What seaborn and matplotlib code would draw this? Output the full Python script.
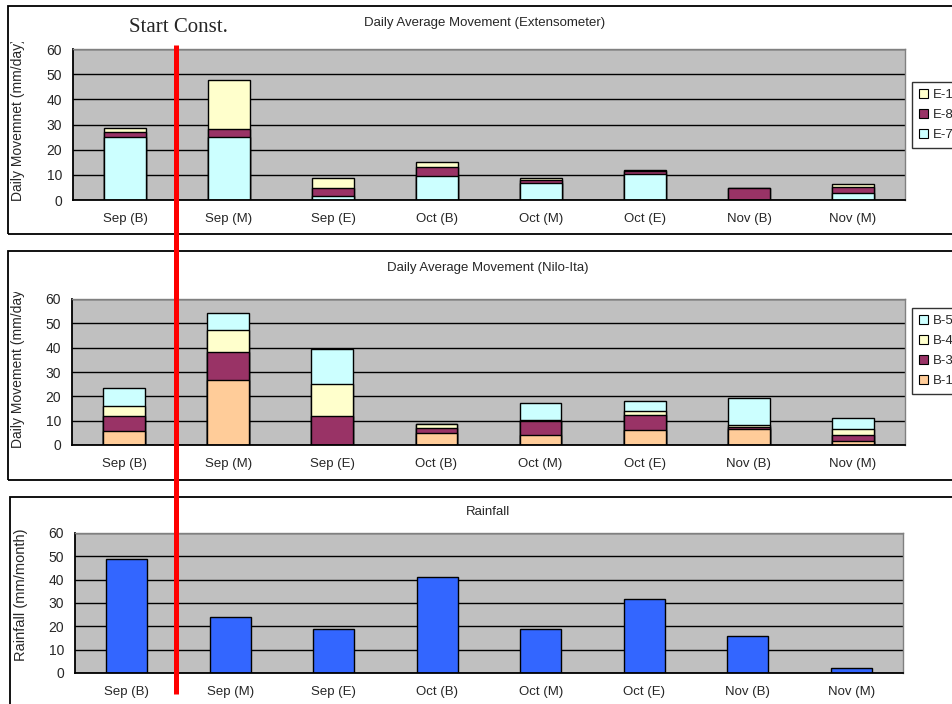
import numpy as np
import pandas as pd
import matplotlib
matplotlib.use("Agg")
import matplotlib.pyplot as plt
import seaborn as sns
from matplotlib.patches import Rectangle, Patch
from matplotlib.lines import Line2D
from matplotlib.transforms import Bbox, TransformedBbox

periods = ["Sep (B)", "Sep (M)", "Sep (E)", "Oct (B)", "Oct (M)", "Oct (E)", "Nov (B)", "Nov (M)"]

# Extensometer, daily movement (mm/day)
e7 = [25.1, 25.2, 1.7, 9.6, 6.6, 10.3, 0.0, 2.9]
e8 = [2.0, 3.0, 3.1, 3.6, 1.2, 1.3, 4.6, 2.4]
e10 = [1.7, 19.4, 3.9, 2.0, 1.1, 0.2, 0.1, 1.0]

# Nilo-Ita, daily movement (mm/day)
b1 = [5.8, 26.8, 0.0, 5.0, 4.3, 6.2, 6.6, 1.6]
b3 = [6.2, 11.5, 12.0, 1.8, 5.7, 6.3, 0.7, 2.5]
b4 = [4.1, 8.8, 12.9, 1.8, 0.4, 1.6, 1.1, 2.3]
b5 = [7.3, 7.2, 14.7, 0.1, 6.8, 4.0, 10.8, 4.7]

# Rainfall (mm/month)
rain = [48.7, 24.0, 18.7, 41.1, 18.7, 31.6, 16.0, 2.1]

cyan = "#CCFFFF"
maroon = "#993366"
yellow = "#FFFFCC"
peach = "#FFCC99"
blue = "#3366FF"

sns.set_style("white")
plt.rcParams['font.family'] = ['Liberation Sans', 'DejaVu Sans']

W, H = 952, 704
fig = plt.figure(figsize=(W / 100, H / 100), dpi=100)


def px_axes(x0, y0, x1, y1):
    # pixel box (top-left origin) -> axes
    return fig.add_axes([x0 / W, 1 - y1 / H, (x1 - x0) / W, (y1 - y0) / H])


def style(ax):
    ax.set_facecolor('#C0C0C0')
    ax.set_xlim(-0.5, 7.5)
    ax.set_ylim(0, 60)
    ax.set_yticks(range(0, 61, 10))
    ax.yaxis.grid(True, color='black', linewidth=1)
    ax.xaxis.grid(False)
    ax.set_axisbelow(True)
    ax.set_xlabel('')
    ax.set_ylabel('')
    ax.set_xticks(np.arange(0.5, 7.5, 1), minor=True)
    ax.tick_params(axis='x', which='major', length=0, pad=9, labelsize=9.5)
    ax.tick_params(axis='x', which='minor', length=3, width=1, direction='out', color='black')
    ax.tick_params(axis='y', length=3, width=1, direction='out', color='black', labelsize=10, pad=5)
    for s in ['top', 'right']:
        ax.spines[s].set_color('#808080')
        ax.spines[s].set_linewidth(1)
    for s in ['left', 'bottom']:
        ax.spines[s].set_color('black')
        ax.spines[s].set_linewidth(1.3)


def stacked(ax, layers, colors):
    tops = np.cumsum(np.array(layers), axis=0)
    # draw the cumulative totals from the highest down, each one over the last
    for top, c in zip(tops[::-1], colors[::-1]):
        sns.barplot(x=periods, y=top, color=c, saturation=1, width=0.4,
                    edgecolor='black', linewidth=1, errorbar=None, ax=ax)


def ylabel(text, x, y_bottom, y_clip, size=10):
    t = fig.text(x / W, 1 - y_bottom / H, text, rotation=90, ha='center', va='bottom', fontsize=size)
    t.set_clip_box(TransformedBbox(Bbox([[0, 1 - y_bottom / H - 0.01], [1, 1 - y_clip / H]]), fig.transFigure))
    t.set_clip_on(True)


def legend(handles_labels, x, y):
    handles = [Patch(facecolor=c, edgecolor='black', linewidth=0.8) for c, _ in handles_labels]
    labels = [l for _, l in handles_labels]
    leg = fig.legend(handles, labels, loc='upper left', bbox_to_anchor=(x / W, 1 - y / H),
                     fontsize=9.5, frameon=True, fancybox=False, handlelength=0.65, handleheight=0.65,
                     handletextpad=0.35, labelspacing=0.6, borderpad=0.55, borderaxespad=0)
    leg.get_frame().set_edgecolor('black')
    leg.get_frame().set_linewidth(1)


# chart area frames
for (x0, y0, x1, y1) in [(8, 6, 965, 234), (8, 251, 965, 480), (10, 497, 965, 715)]:
    fig.add_artist(Rectangle((x0 / W, 1 - y1 / H), (x1 - x0) / W, (y1 - y0) / H,
                             transform=fig.transFigure, fill=False, edgecolor='black', linewidth=1.3))

# Extensometer
ax1 = px_axes(73, 49, 905, 200)
stacked(ax1, [e7, e8, e10], [cyan, maroon, yellow])
style(ax1)
fig.text(485 / W, 1 - 23 / H, "Daily Average Movement (Extensometer)", ha='center', va='center', fontsize=9.5)
ylabel("Daily Movemnet (mm/day)", 18, 201, 42)
legend([(yellow, 'E-10'), (maroon, 'E-8'), (cyan, 'E-7')], 912, 82)

# Nilo-Ita
ax2 = px_axes(72, 299, 905, 445)
stacked(ax2, [b1, b3, b4, b5], [peach, maroon, yellow, cyan])
style(ax2)
fig.text(488 / W, 1 - 268 / H, "Daily Average Movement (Nilo-Ita)", ha='center', va='center', fontsize=9.5)
ylabel("Daily Movement (mm/day)", 18, 448, 292)
legend([(cyan, 'B-5'), (yellow, 'B-4'), (maroon, 'B-3'), (peach, 'B-1')], 912, 308)

# Rainfall
ax3 = px_axes(75, 533, 903, 673)
sns.barplot(x=periods, y=rain, color=blue, saturation=1, width=0.4,
            edgecolor='black', linewidth=1, errorbar=None, ax=ax3)
style(ax3)
fig.text(488 / W, 1 - 512 / H, "Rainfall", ha='center', va='center', fontsize=9.5)
ylabel("Rainfall (mm/month)", 21, 661, 500, size=10.5)

# start of construction marker
fig.add_artist(Line2D([176 / W, 176 / W], [1 - 45 / H, 1 - 694 / H], transform=fig.transFigure,
                      color='#FF0000', linewidth=3.6, zorder=20, solid_capstyle='butt'))
fig.text(178 / W, 1 - 28 / H, "Start Const.", ha='center', va='center', fontsize=15,
         family=['Liberation Serif', 'DejaVu Serif'])

plt.savefig("out.png", dpi=100)
